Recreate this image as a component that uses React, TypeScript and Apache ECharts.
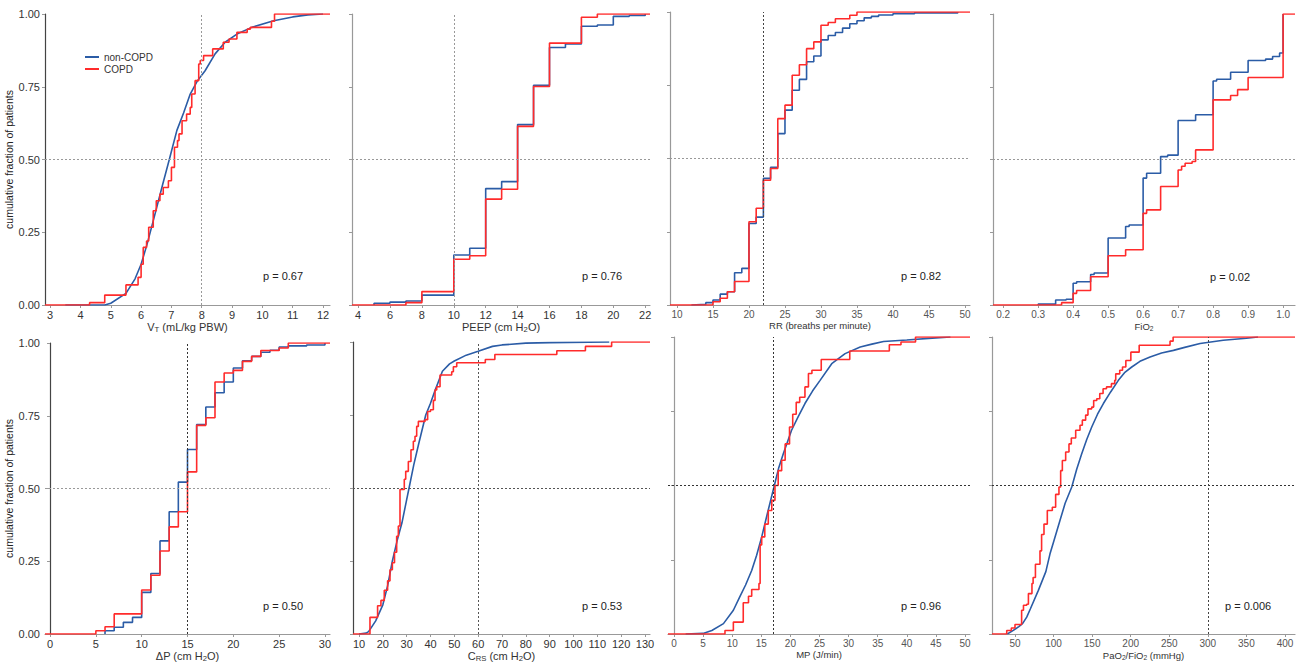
import React, { useEffect, useRef } from "react";
import * as echarts from "echarts";

const BLUE = "#2b5ca6";
const RED = "#ff2b2b";
const FONT = "'Liberation Sans', Arial, sans-serif";

const seriesNames = ["non-COPD", "COPD"];

// ---- V_T (mL/kg PBW)
const vtNonCopd: number[][] = [[3.5,0],[4.8,0],[5.0,0.006],[5.5,0.04],[5.8,0.09],[6.0,0.14],[6.2,0.21],[6.46,0.313],[6.7,0.41],[6.93,0.5],[7.18,0.6],[7.4,0.66],[7.62,0.725],[7.86,0.771],[8.11,0.805],[8.44,0.863],[8.77,0.903],[9.16,0.931],[9.65,0.954],[10.37,0.977],[11.0,0.99],[11.5,0.997],[12.0,1.0]];
const vtCopd: number[][] = [[2.83,0],[4.3,0.008],[4.8,0.034],[5.5,0.069],[5.9,0.095],[6.0,0.14],[6.07,0.198],[6.18,0.22],[6.25,0.267],[6.4,0.324],[6.5,0.358],[6.62,0.381],[6.73,0.404],[6.9,0.427],[7.0,0.473],[7.1,0.542],[7.2,0.565],[7.25,0.588],[7.35,0.633],[7.5,0.656],[7.62,0.679],[7.67,0.725],[7.78,0.771],[7.9,0.828],[7.95,0.84],[8.06,0.857],[8.36,0.88],[8.71,0.903],[8.9,0.914],[9.16,0.937],[9.5,0.948],[9.6,0.954],[10.3,0.975],[10.4,1.0],[12.23,1.0]];
// ---- PEEP
const peepNonCopd: number[][] = [[5,0],[5,0.006],[6,0.01],[7,0.014],[8,0.034],[10,0.172],[11,0.195],[12,0.40],[13,0.424],[14,0.62],[15,0.755],[16,0.885],[17,0.897],[18,0.958],[19,0.962],[20,0.992],[21,0.995],[22,1.0]];
const peepCopd: number[][] = [[3.62,0],[7,0.008],[8,0.046],[10,0.157],[11,0.169],[12,0.364],[13,0.398],[14,0.614],[15,0.751],[16,0.90],[18,0.989],[19,1.0],[22.3,1.0]];
// ---- RR
const rrNonCopd: number[][] = [[12,0],[12,0.002],[14,0.008],[15,0.017],[16,0.037],[17,0.045],[18,0.11],[19,0.125],[20,0.278],[21,0.30],[22,0.432],[23,0.47],[24,0.585],[25,0.665],[26,0.733],[27,0.77],[28,0.83],[29,0.85],[30,0.905],[31,0.92],[32,0.93],[33,0.945],[34,0.96],[35,0.97],[36,0.98],[37,0.985],[38,0.99],[40,0.994],[43,0.997],[49,1.0]];
const rrCopd: number[][] = [[9.03,0],[15,0.011],[16,0.023],[17,0.045],[18,0.08],[20,0.284],[21,0.33],[22,0.426],[23,0.466],[24,0.636],[25,0.682],[26,0.784],[27,0.82],[28,0.875],[29,0.898],[30,0.955],[31,0.964],[32,0.977],[34,0.989],[35,1.0],[50.7,1.0]];
// ---- FiO2
const fio2NonCopd: number[][] = [[0.30,0],[0.30,0.003],[0.35,0.017],[0.38,0.02],[0.40,0.075],[0.41,0.08],[0.45,0.105],[0.46,0.11],[0.50,0.23],[0.55,0.27],[0.56,0.275],[0.60,0.436],[0.61,0.453],[0.65,0.51],[0.67,0.515],[0.70,0.634],[0.75,0.654],[0.80,0.77],[0.81,0.776],[0.85,0.80],[0.90,0.84],[0.95,0.845],[0.97,0.854],[0.99,0.866],[1.0,1.0]];
const fio2Copd: number[][] = [[0.171,0],[0.367,0.008],[0.40,0.04],[0.41,0.05],[0.45,0.097],[0.50,0.169],[0.55,0.19],[0.60,0.315],[0.61,0.327],[0.65,0.407],[0.70,0.464],[0.71,0.477],[0.72,0.487],[0.74,0.493],[0.75,0.533],[0.80,0.705],[0.85,0.72],[0.87,0.74],[0.90,0.782],[1.0,1.0],[1.034,1.0]];
// ---- Delta P
const dpNonCopd: number[][] = [[6,0],[6,0.011],[7,0.023],[8,0.04],[9,0.057],[10,0.143],[11,0.208],[12,0.32],[13,0.42],[14,0.522],[15,0.634],[16,0.72],[17,0.78],[18,0.829],[19,0.866],[20,0.914],[21,0.939],[22,0.954],[23,0.968],[24,0.975],[25,0.986],[26,0.99],[28,0.993],[30,1.0]];
const dpCopd: number[][] = [[-0.55,0],[5,0.011],[6,0.025],[7,0.069],[10,0.151],[11,0.202],[12,0.285],[13,0.368],[14,0.42],[15,0.557],[16,0.717],[17,0.743],[18,0.866],[19,0.897],[20,0.906],[21,0.937],[22,0.954],[23,0.974],[25,0.983],[26,1.0],[30.55,1.0]];
// ---- C_RS
const crsNonCopd: number[][] = [[10,0],[13,0.003],[14,0.008],[15,0.02],[17,0.045],[20,0.10],[22,0.165],[24,0.25],[26,0.32],[28,0.38],[30,0.46],[31,0.5],[33,0.58],[35,0.65],[38,0.75],[40,0.79],[42,0.836],[45,0.9],[48,0.925],[50,0.935],[55,0.955],[60,0.968],[66,0.985],[70,0.99],[80,0.996],[90,0.998],[115,1.0]];
const crsCopd: number[][] = [[7.48,0],[14.6,0.057],[17.8,0.097],[19.2,0.115],[20.6,0.15],[22,0.182],[23,0.22],[24,0.244],[24.9,0.28],[25.8,0.335],[26.5,0.37],[27.2,0.495],[29,0.53],[29.6,0.557],[30.7,0.591],[31.8,0.631],[32.8,0.66],[33.5,0.677],[34.2,0.711],[34.9,0.728],[37.7,0.734],[38.8,0.762],[40,0.768],[41.2,0.8],[41.9,0.836],[42.6,0.847],[44,0.887],[48.9,0.898],[49.6,0.915],[51,0.929],[63,0.94],[67,0.957],[93,0.97],[105,0.985],[116,1.0],[132.1,1.0]];
// ---- MP
const mpNonCopd: number[][] = [[2,0],[5,0.002],[6.5,0.012],[8.5,0.035],[10.2,0.08],[11.3,0.125],[12.3,0.165],[13.35,0.214],[14.2,0.265],[15.07,0.327],[16.1,0.41],[17.18,0.495],[18,0.56],[18.78,0.607],[20.2,0.686],[21.3,0.73],[22.5,0.776],[23.8,0.818],[25.1,0.854],[27.1,0.91],[29.4,0.944],[32,0.966],[34,0.976],[36,0.985],[40,0.99],[45,0.997],[47.5,1.0]];
const mpCopd: number[][] = [[-1.03,0],[8.76,0.012],[10.2,0.04],[11.9,0.105],[12.8,0.127],[13.35,0.15],[14.6,0.17],[14.8,0.3],[15.07,0.327],[15.6,0.37],[16.2,0.416],[16.8,0.45],[17.35,0.5],[17.9,0.55],[18.5,0.585],[19.1,0.64],[19.85,0.697],[20.4,0.74],[21,0.78],[21.6,0.797],[22.5,0.832],[23.1,0.877],[23.7,0.888],[25.3,0.924],[30.2,0.953],[37,0.974],[39,0.983],[41.5,1.0],[50.86,1.0]];
// ---- PaO2/FiO2
const pfNonCopd: number[][] = [[40,0],[47.8,0.012],[55,0.025],[60,0.036],[65.2,0.057],[70,0.085],[80.3,0.147],[90,0.21],[95.4,0.27],[100,0.31],[108.4,0.383],[115,0.44],[123.6,0.495],[130,0.555],[136.5,0.607],[143,0.655],[149.5,0.697],[157,0.74],[164.6,0.776],[174,0.815],[184,0.854],[192,0.88],[201.4,0.899],[212,0.918],[225.1,0.933],[240,0.946],[255.4,0.955],[270,0.965],[290,0.978],[320,0.989],[350,0.996],[365,1.0]];
const pfCopd: number[][] = [[20.2,0],[39.3,0.012],[45.3,0.02],[50,0.032],[58.6,0.08],[61,0.097],[65.2,0.1],[67.4,0.136],[72,0.17],[73.5,0.19],[76.5,0.235],[82.4,0.28],[84.5,0.335],[87.6,0.37],[91.9,0.416],[98.4,0.427],[102.7,0.47],[107,0.495],[109.2,0.55],[111.4,0.584],[115.7,0.613],[120,0.64],[123,0.66],[128.7,0.686],[134.3,0.703],[137.3,0.72],[141.6,0.737],[144.6,0.758],[149.5,0.764],[152,0.786],[156,0.792],[159.9,0.81],[164.2,0.826],[168.6,0.832],[175,0.843],[179.3,0.854],[180.6,0.876],[185.8,0.888],[189.4,0.899],[193.7,0.921],[200.2,0.949],[211,0.972],[251,0.986],[255,1.0],[413,1.0]];

const xTickValues: number[][] = [
  [3,4,5,6,7,8,9,10,11,12],
  [4,6,8,10,12,14,16,18,20,22],
  [10,15,20,25,30,35,40,45,50],
  [0.2,0.3,0.4,0.5,0.6,0.7,0.8,0.9,1.0],
  [0,5,10,15,20,25,30],
  [10,20,30,40,50,60,70,80,90,100,110,120,130],
  [0,5,10,15,20,25,30,35,40,45,50],
  [50,100,150,200,250,300,350,400],
];
const xAxisNames = [
  "V{sub|T} (mL/kg PBW)",
  "PEEP (cm H{sub|2}O)",
  "RR (breaths per minute)",
  "FiO{sub|2}",
  "ΔP (cm H{sub|2}O)",
  "C{sub|RS} (cm H{sub|2}O)",
  "MP (J/min)",
  "PaO{sub|2}/FiO{sub|2} (mmHg)",
];
const refX: (number | null)[] = [8, 10, 22, null, 15, 60, 17, 300];
const pValues = ["p = 0.67", "p = 0.76", "p = 0.82", "p = 0.02", "p = 0.50", "p = 0.53", "p = 0.96", "p = 0.006"];
const nonCopdData = [vtNonCopd, peepNonCopd, rrNonCopd, fio2NonCopd, dpNonCopd, crsNonCopd, mpNonCopd, pfNonCopd];
const copdData = [vtCopd, peepCopd, rrCopd, fio2Copd, dpCopd, crsCopd, mpCopd, pfCopd];

// layout / style (pixels)
const layout = [
  { grid: [45, 14, 285, 291], min: 2.83, max: 12.23, smooth: true, fs: 11, nfs: 11, lab: "#333", ax: "#444", hc: "#999", vc: "#999", p: [263, 277], dec: 0, ylab: true },
  { grid: [352, 14, 298, 291], min: 3.62, max: 22.3, smooth: false, fs: 11, nfs: 11, lab: "#333", ax: "#999", hc: "#999", vc: "#999", p: [582, 277], dec: 0, ylab: false },
  { grid: [670, 12, 300, 293], min: 9.03, max: 50.7, smooth: false, fs: 10, nfs: 9.5, lab: "#555", ax: "#999", hc: "#999", vc: "#444", p: [901, 277], dec: 0, ylab: false },
  { grid: [993, 14, 302, 291], min: 0.171, max: 1.034, smooth: false, fs: 10, nfs: 9.5, lab: "#555", ax: "#999", hc: "#999", vc: "#999", p: [1210, 278], dec: 1, ylab: false },
  { grid: [45, 343, 285, 292], min: -0.55, max: 30.55, smooth: false, fs: 11, nfs: 11, lab: "#333", ax: "#444", hc: "#999", vc: "#333", p: [263, 607], dec: 0, ylab: true },
  { grid: [353, 342, 297, 293], min: 7.48, max: 132.1, smooth: true, fs: 11, nfs: 11, lab: "#333", ax: "#444", hc: "#555", vc: "#555", p: [582, 607], dec: 0, ylab: false },
  { grid: [668, 337, 302, 297], min: -1.03, max: 50.86, smooth: true, fs: 10, nfs: 9.5, lab: "#555", ax: "#999", hc: "#333", vc: "#333", p: [901, 607], dec: 0, ylab: false },
  { grid: [992, 337, 303, 297], min: 20.2, max: 413, smooth: true, fs: 10, nfs: 9.5, lab: "#555", ax: "#999", hc: "#333", vc: "#444", p: [1225, 607], dec: 0, ylab: false },
];

export default function App() {
  const ref = useRef<HTMLDivElement>(null);
  useEffect(() => {
    const chart = echarts.init(ref.current!, null, { renderer: "svg" });
    const grids: any[] = [];
    const xAxes: any[] = [];
    const yAxes: any[] = [];
    const series: any[] = [];
    const graphics: any[] = [];
    layout.forEach((L, i) => {
      grids.push({ left: L.grid[0], top: L.grid[1], width: L.grid[2], height: L.grid[3], containLabel: false });
      xAxes.push({
        type: "value", gridIndex: i, min: L.min, max: L.max,
        name: xAxisNames[i], nameLocation: "middle", nameGap: 15,
        nameTextStyle: { fontSize: L.nfs, color: "#333", fontFamily: FONT, rich: { sub: { fontSize: L.nfs * 0.7, padding: [5, 0, 0, 0], color: "#333", fontFamily: FONT } } },
        axisLine: { show: true, lineStyle: { color: "#999", width: 1.2 } },
        axisTick: { show: true, length: 3, customValues: xTickValues[i], lineStyle: { color: "#999" } },
        axisLabel: { customValues: xTickValues[i], fontSize: L.fs, color: L.lab, margin: 4, fontFamily: FONT, formatter: (v: number) => v.toFixed(L.dec) },
        splitLine: { show: false },
      });
      yAxes.push({
        type: "value", gridIndex: i, min: 0, max: 1, interval: 0.25,
        name: L.ylab ? "cumulative fraction of patients" : "", nameLocation: "middle", nameGap: 30,
        nameTextStyle: { fontSize: 10.5, color: "#222", fontFamily: FONT },
        axisLine: { show: true, lineStyle: { color: L.ax, width: 1.2 } },
        axisTick: { show: true, length: 3, lineStyle: { color: "#999" } },
        axisLabel: { show: L.ylab, fontSize: 11, color: "#333", margin: 5, fontFamily: FONT, formatter: (v: number) => v.toFixed(2) },
        splitLine: { show: false },
      });
      const markData: any[] = [{ yAxis: 0.5, lineStyle: { color: L.hc } }];
      if (refX[i] !== null) markData.push({ xAxis: refX[i], lineStyle: { color: L.vc } });
      series.push({
        name: seriesNames[0], type: "line", xAxisIndex: i, yAxisIndex: i,
        data: nonCopdData[i], step: L.smooth ? false : "end", showSymbol: false, symbol: "none",
        lineStyle: { color: BLUE, width: 1.6 }, itemStyle: { color: BLUE }, z: 2,
        markLine: { silent: true, symbol: ["none", "none"], label: { show: false }, lineStyle: { type: [2, 2], width: 1 }, data: markData, animation: false },
      });
      series.push({
        name: seriesNames[1], type: "line", xAxisIndex: i, yAxisIndex: i,
        data: copdData[i], step: "end", showSymbol: false, symbol: "none",
        lineStyle: { color: RED, width: 1.6 }, itemStyle: { color: RED }, z: 3,
      });
      graphics.push({
        type: "text", left: L.p[0], top: L.p[1] - 7,
        style: { text: pValues[i], fontSize: 11, fill: "#222", fontFamily: FONT },
      });
    });
    chart.setOption({
      animation: false,
      textStyle: { fontFamily: FONT },
      grid: grids, xAxis: xAxes, yAxis: yAxes, series,
      legend: {
        data: seriesNames, left: 80, top: 47, orient: "vertical", icon: "rect",
        itemWidth: 14, itemHeight: 2, itemGap: 2,
        textStyle: { fontSize: 10, color: "#333", fontFamily: FONT },
        selectedMode: false,
      },
      graphic: graphics,
    });
    return () => chart.dispose();
  }, []);
  return <div ref={ref} style={{ position: "fixed", left: 0, top: 0, width: 1299, height: 663, background: "#fff" }} />;
}
